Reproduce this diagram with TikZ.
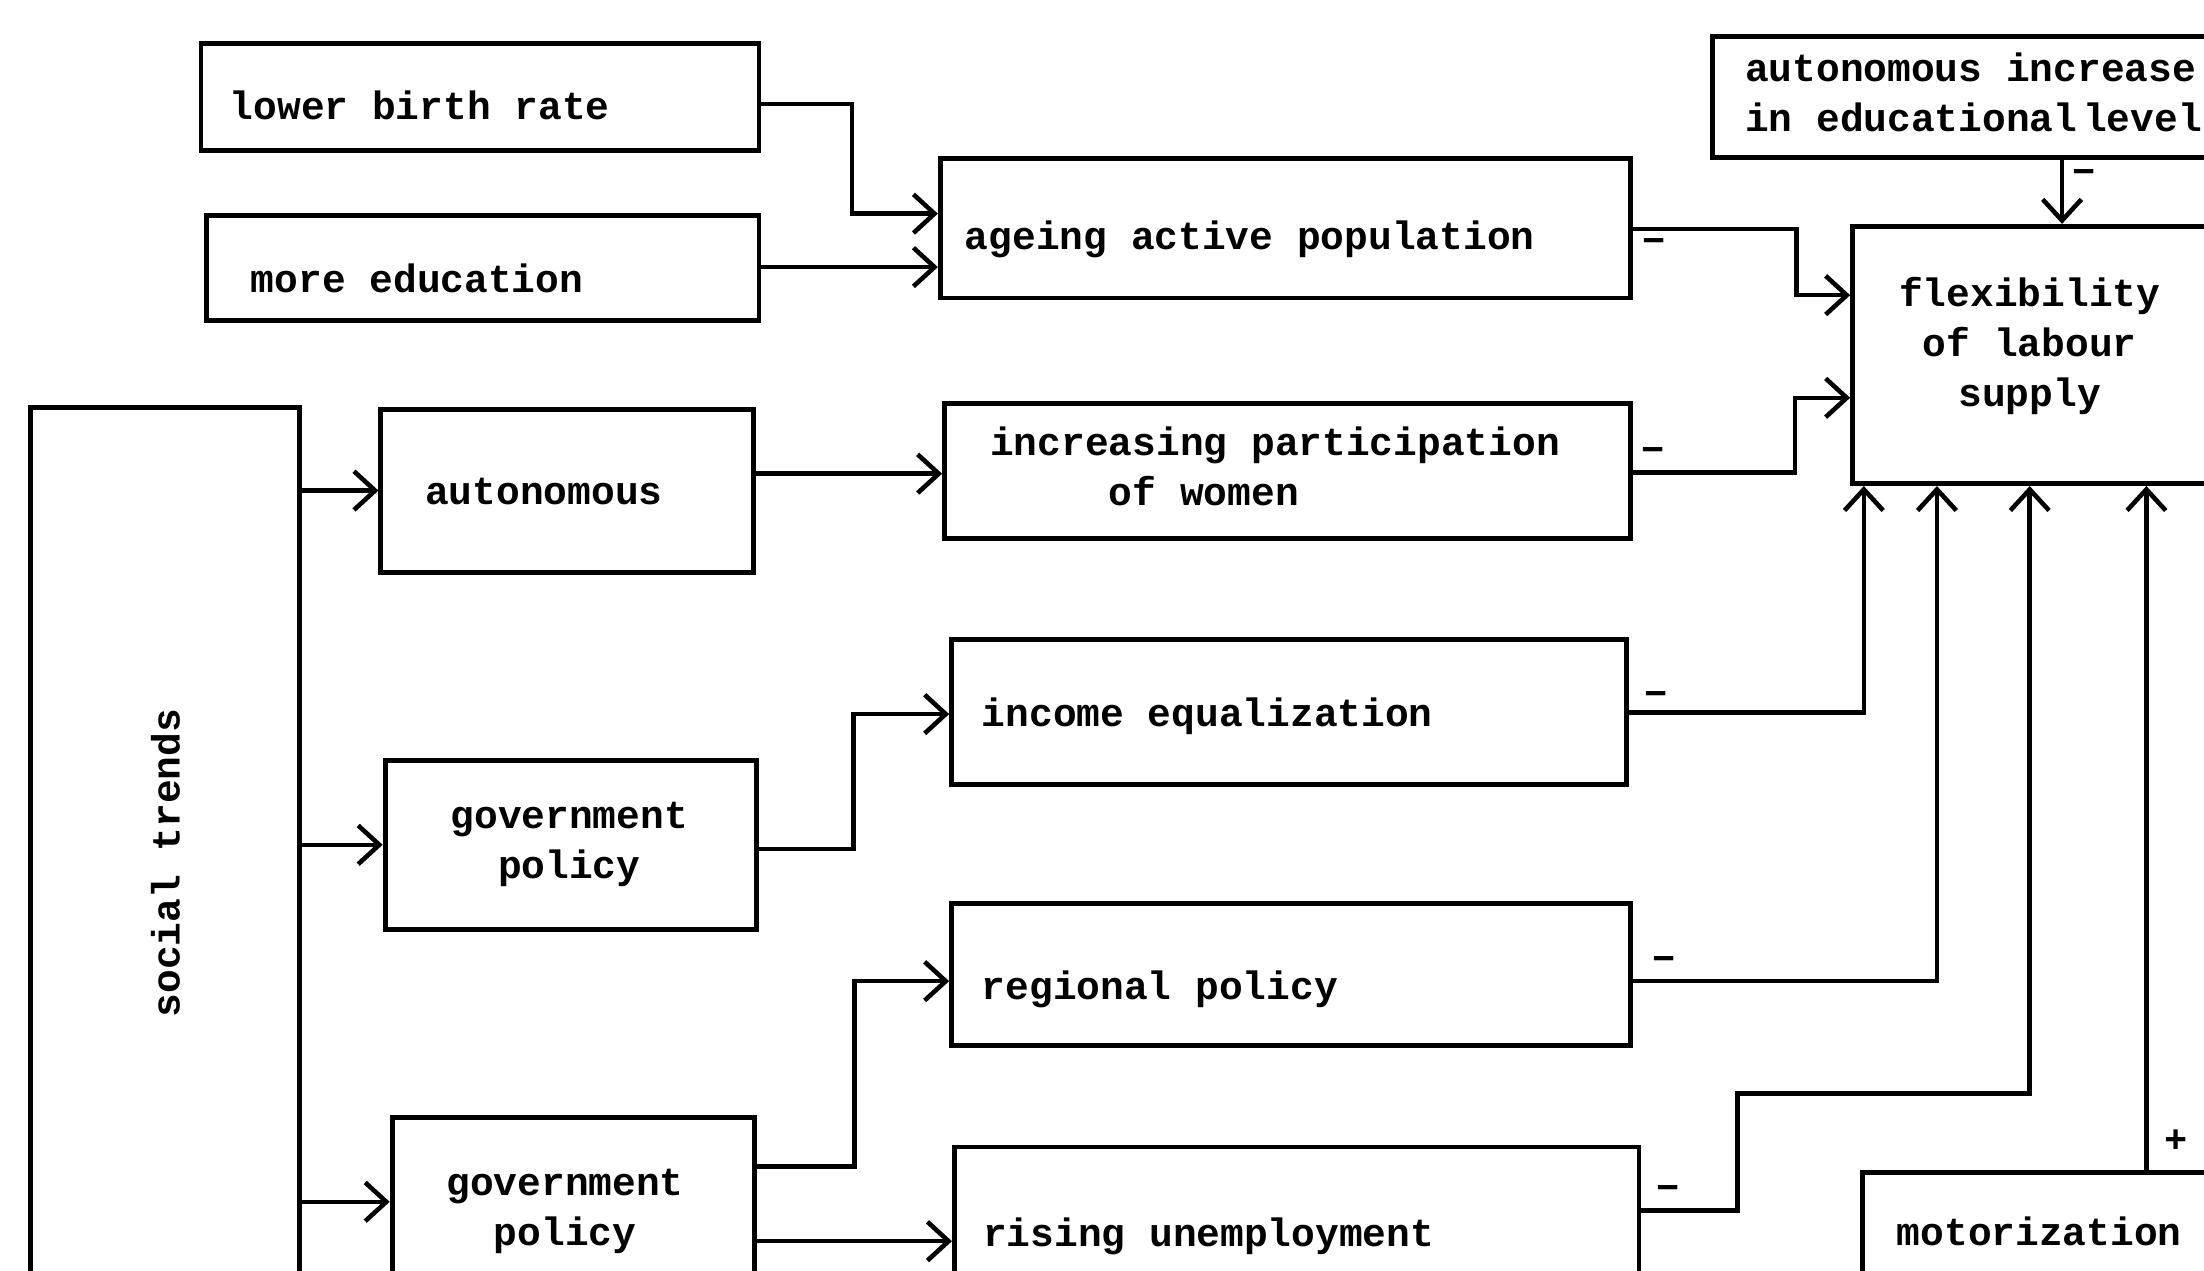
\documentclass[tikz,border=0pt]{standalone}
\usepackage{fontspec}
\setmonofont{Liberation Mono}
\usetikzlibrary{arrows.meta}
\newcommand\mkbox[5]{\node[boxst, minimum width={(#4-#2)*0.014056cm}, minimum height={(#5-#3)*0.014056cm}] (#1) at ({(#2+#4)/2},{(#3+#5)/2}) {};}
\tikzset{
  boxst/.style={draw, line width=1.4pt, inner sep=0pt, rectangle},
  txt/.style={font=\ttfamily\bfseries\fontsize{11.25}{14}\selectfont, inner sep=0pt, text height=1.5ex, text depth=0.25ex},
  mtxt/.style={font=\ttfamily\bfseries\fontsize{11.25}{14.2}\selectfont, inner sep=0pt},
  arr/.style={line width=1.3pt, -{Straight Barb[length=6pt,width=11pt,line width=1.3pt]}},
  sgn/.style={font=\ttfamily\bfseries\fontsize{11}{13}\selectfont, inner sep=0pt}
}
\begin{document}
\begin{tikzpicture}[x=0.014056cm, y=-0.014056cm]
\useasboundingbox (0,0) rectangle (1568,904);
\clip (0,0) rectangle (1568,904);
\fill[white] (0,0) rectangle (1568,904);
% boxes
\mkbox{lbr}{143}{31}{540}{107}
\mkbox{edu}{147}{153}{540}{228}
\mkbox{age}{669}{113}{1160}{212}
\mkbox{aie}{1218}{26}{1620}{112}
\mkbox{flex}{1318}{161}{1580}{344}
\mkbox{soc}{22}{290}{213}{960}
\mkbox{auto}{271}{291}{536}{407}
\mkbox{inc}{672}{287}{1160}{383}
\mkbox{ieq}{677}{455}{1157}{558}
\mkbox{gov1}{274}{541}{538}{661}
\mkbox{reg}{677}{643}{1160}{744}
\mkbox{gov2}{279}{795}{537}{960}
\mkbox{rise}{679}{816}{1166}{960}
\mkbox{mot}{1325}{834}{1620}{960}
% texts
\node[txt, anchor=west] (tlbr) at (163,78) {lower birth rate};
\node[txt, anchor=west] (tedu) at (178,201) {more education};
\node[txt, anchor=west] (tage) at (686,171) {ageing active population};
\node[mtxt, anchor=west, align=left] (taie) at (1241,66) {autonomous increase\\in educational\hspace{0.15em}level};
\node[mtxt, align=center] (tflex) at (1444,246) {flexibility\\of labour\\supply};
\node[txt, rotate=90] (tsoc) at (121,614) {social trends};
\node[txt, anchor=west] (tauto) at (302,352) {autonomous};
\node[mtxt, anchor=west, align=left] (tinc) at (704,332) {increasing participation\\\phantom{xxxxx}of women};
\node[txt, anchor=west] (tieq) at (698,510) {income equalization};
\node[mtxt, align=center] (tgov1) at (405,601) {government\\policy};
\node[txt, anchor=west] (treg) at (698,704) {regional policy};
\node[mtxt, align=center] (tgov2) at (402,862) {government\\policy};
\node[txt, anchor=west] (trise) at (699,880) {rising unemployment};
\node[txt, anchor=west] (tmot) at (1349,879) {motorization};
% connectors
\draw[arr] (lbr.east |- 0,74) -- (606,74) -- (606,152) -- (age.west |- 0,152);
\draw[arr] (edu.east |- 0,190) -- (age.west |- 0,190);
\draw[arr] (age.east |- 0,163) -- (1278,163) -- (1278,210) -- (flex.west |- 0,210);
\draw[arr] (inc.east |- 0,336) -- (1277,336) -- (1277,283) -- (flex.west |- 0,283);
\draw[arr] (soc.east |- 0,349) -- (auto.west |- 0,349);
\draw[arr] (soc.east |- 0,601) -- (gov1.west |- 0,601);
\draw[arr] (soc.east |- 0,855) -- (gov2.west |- 0,855);
\draw[arr] (auto.east |- 0,337) -- (inc.west |- 0,337);
\draw[arr] (gov1.east |- 0,604) -- (607,604) -- (607,508) -- (ieq.west |- 0,508);
\draw[arr] (gov2.east |- 0,830) -- (608,830) -- (608,698) -- (reg.west |- 0,698);
\draw[arr] (gov2.east |- 0,883) -- (rise.west |- 0,883);
\draw[arr] (ieq.east |- 0,507) -- (1326,507) -- (flex.south -| 1326,0);
\draw[arr] (reg.east |- 0,698) -- (1378,698) -- (flex.south -| 1378,0);
\draw[arr] (rise.east |- 0,861) -- (1236,861) -- (1236,778) -- (1444,778) -- (flex.south -| 1444,0);
\draw[arr] (mot.north -| 1527,0) -- (flex.south -| 1527,0);
\draw[arr] (aie.south -| 1467,0) -- (flex.north -| 1467,0);
% signs
\node[sgn] (m1) at (1177,175) {−};
\node[sgn] (m2) at (1176,324) {−};
\node[sgn] (m3) at (1178,497) {−};
\node[sgn] (m4) at (1184,686) {−};
\node[sgn] (m5) at (1187,849) {−};
\node[sgn] (m6) at (1483,126) {−};
\node[sgn] (p1) at (1548,812) {+};
\end{tikzpicture}
\end{document}
